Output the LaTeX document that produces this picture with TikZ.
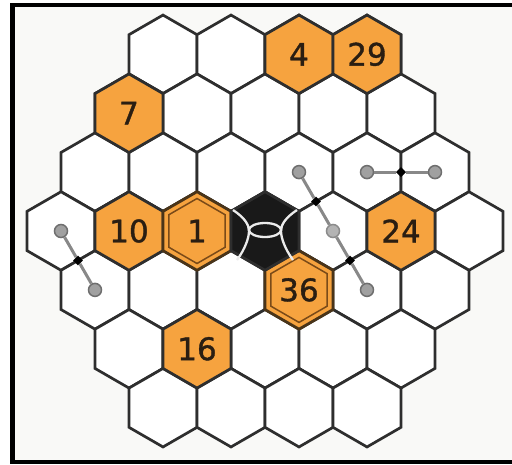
\documentclass[tikz,border=0pt]{standalone}
\usepackage{fontspec}
\setmainfont{DejaVu Sans}
\newfontfamily\numfont{DejaVu Sans}[BoldFont={DejaVu Sans}, BoldFeatures={FakeBold=1.2}]
\usetikzlibrary{shapes.geometric,calc}
\definecolor{hexorange}{HTML}{F6A33F}
\definecolor{hexline}{HTML}{2E2E2E}
\definecolor{bgcol}{HTML}{F9F9F7}
\definecolor{numcol}{HTML}{2A1E12}
\definecolor{bondgray}{HTML}{888888}
\definecolor{dotgray}{HTML}{A0A0A0}
\definecolor{dotring}{HTML}{6E6E6E}
\definecolor{ringbrown}{HTML}{7A4A18}
\definecolor{ringdark}{HTML}{4A3418}
\definecolor{lenscol}{HTML}{ECECEC}
\begin{document}
\begin{tikzpicture}[x=1pt,y=-1pt,
  hexcell/.style={regular polygon, regular polygon sides=6, shape border rotate=30,
    minimum size=78.5pt, inner sep=0pt, draw=hexline, line width=2.7pt, fill=white,
    font=\numfont\bfseries\fontsize{31}{31}\selectfont, text=numcol},
  orangecell/.style={hexcell, fill=hexorange},
  doublecell/.style={hexcell, fill=hexorange, draw=ringdark},
  innerring/.style={regular polygon, regular polygon sides=6, shape border rotate=30,
    minimum size=65pt, inner sep=0pt, draw=ringbrown, line width=1.5pt},
  blackcell/.style={hexcell, fill=black!90},
  bond/.style={draw=bondgray, line width=3pt},
  gdot/.style={circle, fill=dotgray, draw=dotring, line width=1.5pt, minimum size=13pt, inner sep=0pt},
  joint/.style={diamond, fill=black, minimum size=10pt, inner sep=0pt},
  lens/.style={draw=lenscol, line width=2.3pt},
  frameline/.style={line width=4.5pt, line cap=rect}
]
\useasboundingbox (0,0) rectangle (512,464);
\clip (0,0) rectangle (512,464);
\fill[white] (0,0) rectangle (512,464);
\fill[bgcol] (12,5) rectangle (512,462);
\draw[frameline] (512,5) -- (12.5,5) -- (12.5,462) -- (512,462);

% grid
\foreach \r in {-3,...,3}{
  \pgfmathtruncatemacro\n{7-abs(\r)}
  \pgfmathtruncatemacro\last{\n-1}
  \foreach \i in {0,...,\last}{
    \node[hexcell] (c\r-\i) at ({265+68*(\i-(\n-1)/2)},{231+58.9*\r}) {};
  }
}

% coloured cells
\node[orangecell] (n4) at (c-3-2) {4};
\node[orangecell] (n29) at (c-3-3) {29};
\node[orangecell] (n7) at (c-2-0) {7};
\node[orangecell] (n10) at (c0-1) {10};
\node[orangecell] (n24) at (c0-5) {24};
\node[orangecell] (n16) at (c2-1) {16};
\node[doublecell] (n1) at (c0-2) {1};
\node[innerring] (n1in) at (n1) {};
\node[doublecell] (n36) at (c1-3) {36};
\node[innerring] (n36in) at (n36) {};
\node[blackcell] (blk) at (c0-3) {};

% lens symbol
\draw[lens] ($(blk)+(-32,-21)$) .. controls ($(blk)+(-20,-13)$) and ($(blk)+(-16,-6)$) .. ($(blk)+(-16,0)$)
  .. controls ($(blk)+(-16,7)$) and ($(blk)+(-20,18)$) .. ($(blk)+(-28,29)$);
\draw[lens] ($(blk)+(32,-21)$) .. controls ($(blk)+(20,-13)$) and ($(blk)+(16,-6)$) .. ($(blk)+(16,0)$)
  .. controls ($(blk)+(16,7)$) and ($(blk)+(20,18)$) .. ($(blk)+(28,29)$);
\draw[lens] ($(blk)+(0,-1)$) ellipse [x radius=16, y radius=7];

% links
\node[gdot] (d1) at (c0-0) {};
\node[gdot] (d2) at (c1-0) {};
\node[joint] (j1) at ($(c0-0)!0.5!(c1-0)$) {};
\draw[bond] (d1) -- (j1) -- (d2);

\node[gdot] (d3) at (c-1-4) {};
\node[gdot] (d4) at (c-1-5) {};
\node[joint] (j2) at ($(c-1-4)!0.5!(c-1-5)$) {};
\draw[bond] (d3) -- (j2) -- (d4);

\node[gdot] (d5) at (c-1-3) {};
\node[gdot, fill=dotgray!80, draw=dotring!80] (d6) at (c0-4) {};
\node[gdot] (d7) at (c1-4) {};
\node[joint] (j3) at ($(c-1-3)!0.5!(c0-4)$) {};
\node[joint] (j4) at ($(c0-4)!0.5!(c1-4)$) {};
\draw[bond] (d5) -- (j3) -- (d6) -- (j4) -- (d7);
\end{tikzpicture}
\end{document}
